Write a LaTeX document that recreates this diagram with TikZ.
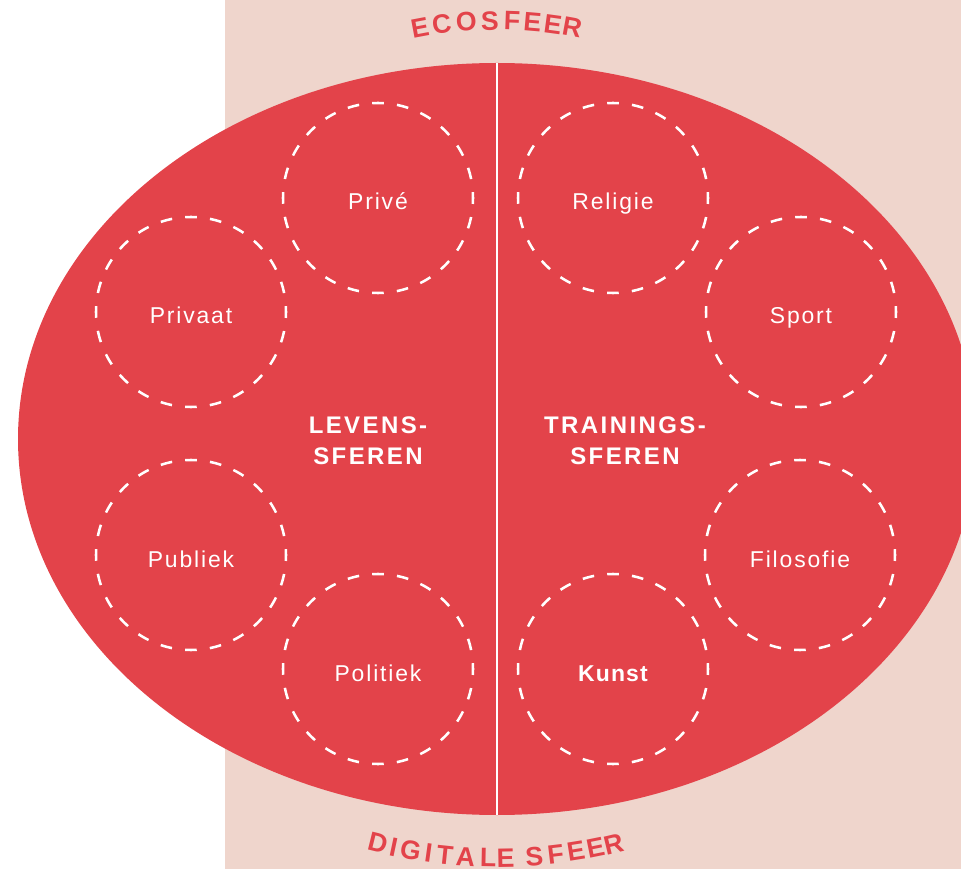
\documentclass[tikz,border=0pt]{standalone}
\usepackage{fontspec}
\setmainfont{Liberation Sans}
\usetikzlibrary{shapes.geometric,calc}
\definecolor{redc}{RGB}{227,67,74}
\definecolor{pinkc}{RGB}{239,213,204}
\begin{document}
\begin{tikzpicture}[x=0.75pt,y=0.75pt,
  sphere/.style={circle, draw=white, line width=1.9pt,
    dash pattern=on 8.75pt off 9.9pt, dash phase=4.375pt,
    minimum size=142.5pt, inner sep=0pt, text=white,
    text height=18pt, text depth=0pt,
    font=\fontsize{17.2}{20}\selectfont\addfontfeatures{LetterSpace=8}},
  boldsphere/.style={sphere, font=\fontsize{17.2}{20}\selectfont\bfseries\addfontfeatures{LetterSpace=5}},
  biglabel/.style={text=white, inner sep=0pt, anchor=base,
    font=\fontsize{18}{22}\selectfont\bfseries\addfontfeatures{LetterSpace=10}},
  curv/.style={text=redc, inner sep=0pt, anchor=base,
    font=\fontsize{20}{24}\selectfont\bfseries}
]
\useasboundingbox (0,0) rectangle (961,869);
\clip (0,0) rectangle (961,869);
\fill[pinkc] (225,0) rectangle (961,869);
\node[ellipse, fill=redc, inner sep=0pt, minimum width=718.5pt, minimum height=564pt] (E) at (497,430) {};
\draw[white, line width=2pt] (E.north) -- (E.south);

\node[sphere] (prive) at (378,671) {Privé};
\node[sphere] (privaat) at (191,557) {Privaat};
\node[sphere] (publiek) at (191,314) {Publiek};
\node[sphere] (politiek) at (378,200) {Politiek};
\node[sphere] (religie) at (613,671) {Religie};
\node[sphere] (sport) at (801,557) {Sport};
\node[sphere] (filosofie) at (800,314) {Filosofie};
\node[boldsphere] (kunst) at (613,200) {Kunst};

\node[biglabel] (lev1) at (368,435) {LEVENS-};
\node[biglabel] (lev2) at (368,404) {SFEREN};
\node[biglabel] (tr1) at (625,435) {TRAININGS-};
\node[biglabel] (tr2) at (625,404) {SFEREN};

\foreach \ch/\xx [count=\i] in {E/421.7,C/443,O/467,S/490,F/511.7,E/531.7,E/551.7,R/570.7}{
  \pgfmathsetmacro\th{asin((\xx-497)/409)}
  \node[curv, rotate=-\th] (eco\i) at ($(497,430)+(90-\th:409)$) {\ch};
}
\foreach \ch/\xx [count=\i] in {D/375.7,I/391.7,G/409,I/427.3,T/444,A/465,L/488,E/505.7,S/535,F/556.7,E/577.3,E/597.3,R/615.7}{
  \pgfmathsetmacro\th{asin((\xx-497)/506)}
  \node[curv, rotate=\th] (dig\i) at ($(497,508)+(270+\th:506)$) {\ch};
}
\end{tikzpicture}
\end{document}
